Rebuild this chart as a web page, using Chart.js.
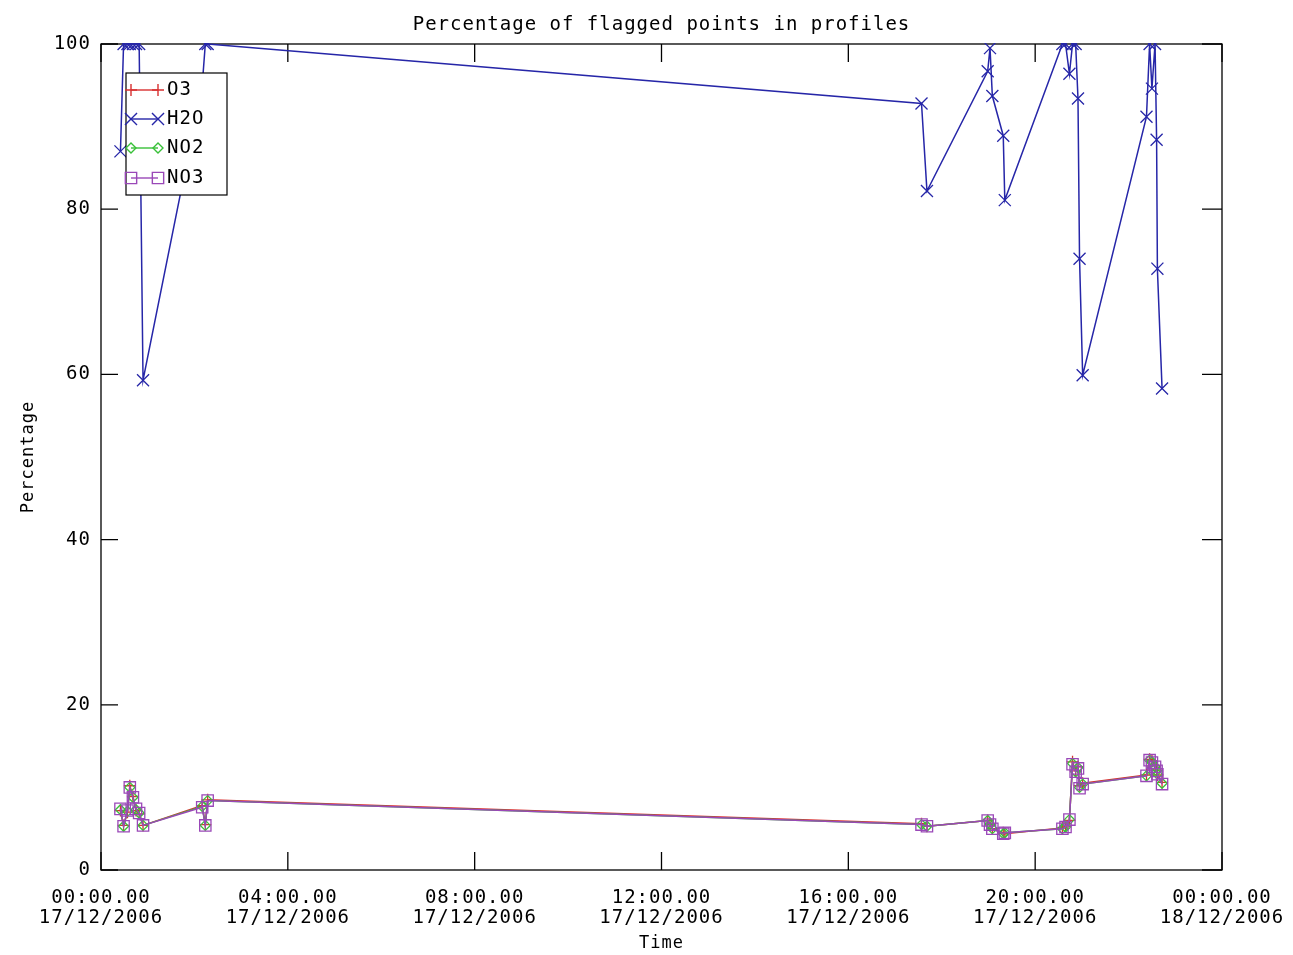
<!DOCTYPE html>
<html>
<head>
<meta charset="utf-8">
<title>Percentage of flagged points in profiles</title>
<script src="https://cdn.jsdelivr.net/npm/chart.js@4.4.0/dist/chart.umd.min.js"></script>
<style>
html,body{margin:0;padding:0;background:#fff;}
</style>
</head>
<body>
<canvas id="flagged" width="1293" height="955"></canvas>
<script>
// profile times on 17/12/2006 (hh:mm)
var times = ['00:25','00:29','00:34','00:37','00:41','00:45','00:49','00:54',
	'02:10','02:14','02:17','17:34','17:41',
	'18:59','19:02','19:05','19:19','19:21',
	'20:35','20:39','20:44','20:48','20:52','20:55','20:57','21:01',
	'22:23','22:27','22:30','22:34','22:36','22:37','22:43'];

var o3  = [7.2,5.4,7.0,10.2,8.9,7.2,6.8,5.4, 7.8,5.5,8.5, 5.6,5.3, 6.0,5.6,5.0,4.5,4.4,
	5.1,5.3,6.0,13.1,12.0,12.5,10.2,10.5, 11.5,13.4,13.2,12.6,12.1,11.5,10.6];
var h2o = [87,100,100,100,100,100,100,59.3, 95,100,100, 92.8,82.2, 96.7,99.5,93.7,88.9,81.1,
	100,100,96.4,100,100,93.4,74,59.9, 91.2,100,94.6,100,88.4,72.8,58.3];
var no2 = [7.3,5.3,7.1,10.0,8.8,7.3,6.9,5.4, 7.7,5.4,8.4, 5.5,5.3, 6.0,5.5,5.0,4.4,4.5,
	5.0,5.2,6.1,12.9,11.9,12.4,10.0,10.4, 11.4,13.3,13.1,12.5,12.0,11.6,10.5];
var no3 = [7.4,5.3,7.2,10.0,8.8,7.4,6.9,5.4, 7.6,5.4,8.4, 5.5,5.3, 6.0,5.5,5.0,4.4,4.5,
	5.0,5.2,6.1,12.8,11.9,12.3,9.9,10.4, 11.4,13.3,13.0,12.5,12.0,11.6,10.4];

var xTickHours = [0,4,8,12,16,20,24];
var xTickLabels = [['00:00.00','17/12/2006'],['04:00.00','17/12/2006'],['08:00.00','17/12/2006'],
	['12:00.00','17/12/2006'],['16:00.00','17/12/2006'],['20:00.00','17/12/2006'],['00:00.00','18/12/2006']];
var yTicks = [0,20,40,60,80,100];

var chartTitle = 'Percentage of flagged points in profiles';
var FONT = "'DejaVu Sans Mono', monospace";

function toHours(t){
	let p = t.split(':');
	return parseInt(p[0],10) + parseInt(p[1],10)/60;
}

function points(values){
	let pts = [];
	for(let i = 0; i < times.length; i++){
		pts.push({x: toHours(times[i]), y: values[i]});
	}
	return pts;
}

function drawMarker(ctx, style, x, y, r){
	ctx.beginPath();
	if(style == 'cross'){
		ctx.moveTo(x - r, y); ctx.lineTo(x + r, y);
		ctx.moveTo(x, y - r); ctx.lineTo(x, y + r);
	} else if(style == 'crossRot'){
		let d = r * Math.SQRT1_2;
		ctx.moveTo(x - d, y - d); ctx.lineTo(x + d, y + d);
		ctx.moveTo(x - d, y + d); ctx.lineTo(x + d, y - d);
	} else if(style == 'rectRot'){
		ctx.moveTo(x - r, y); ctx.lineTo(x, y - r); ctx.lineTo(x + r, y); ctx.lineTo(x, y + r); ctx.closePath();
	} else {
		let s = r * Math.SQRT1_2;
		ctx.rect(x - s, y - s, 2*s, 2*s);
	}
	ctx.stroke();
}

var idlPlugin = {
	id: 'idlStyle',
	beforeDraw: function(chart){
		chart.ctx.letterSpacing = '1px';
	},
	beforeDatasetsDraw: function(chart){
		let ctx = chart.ctx, a = chart.chartArea;
		let xs = chart.scales.x, ys = chart.scales.y;
		ctx.save();
		ctx.strokeStyle = '#000';
		ctx.lineWidth = 1.3;
		ctx.strokeRect(a.left, a.top, a.right - a.left, a.bottom - a.top);
		ctx.beginPath();
		xs.ticks.forEach(function(t){
			let px = xs.getPixelForValue(t.value);
			ctx.moveTo(px, a.bottom); ctx.lineTo(px, a.bottom - 18);
			ctx.moveTo(px, a.top); ctx.lineTo(px, a.top + 18);
		});
		ys.ticks.forEach(function(t){
			let py = ys.getPixelForValue(t.value);
			ctx.moveTo(a.left, py); ctx.lineTo(a.left + 17, py);
			ctx.moveTo(a.right, py); ctx.lineTo(a.right - 20, py);
		});
		ctx.stroke();
		// title, centred on the plot
		ctx.fillStyle = '#000';
		ctx.font = '19px ' + FONT;
		ctx.textAlign = 'center';
		ctx.textBaseline = 'middle';
		ctx.fillText(chartTitle, (a.left + a.right) / 2, 25);
		ctx.restore();
	},
	afterDraw: function(chart){
		let ctx = chart.ctx;
		ctx.save();
		ctx.fillStyle = '#fff';
		ctx.fillRect(126, 73, 101, 122);
		ctx.strokeStyle = '#000';
		ctx.lineWidth = 1.2;
		ctx.strokeRect(126, 73, 101, 122);
		let rows = [90, 119, 148, 178];
		let sets = chart.data.datasets;
		ctx.font = '19px ' + FONT;
		ctx.textBaseline = 'middle';
		ctx.textAlign = 'left';
		for(let i = 0; i < sets.length; i++){
			let ds = sets[i], y = rows[i];
			ctx.strokeStyle = ds.borderColor;
			ctx.lineWidth = 1.4;
			ctx.beginPath();
			ctx.moveTo(131, y); ctx.lineTo(158, y);
			ctx.stroke();
			drawMarker(ctx, ds.pointStyle, 131, y, ds.pointRadius);
			drawMarker(ctx, ds.pointStyle, 158, y, ds.pointRadius);
			ctx.fillStyle = '#000';
			ctx.fillText(ds.label, 167, y);
		}
		ctx.restore();
	}
};

function makeChart(){
	let ctx = document.getElementById('flagged').getContext('2d');

	let datasets = [
		{label:'O3',  data:points(o3),  borderColor:'#d83030', pointStyle:'cross',    pointRadius:6,   order:3},
		{label:'H2O', data:points(h2o), borderColor:'#2626a8', pointStyle:'crossRot', pointRadius:8.5, order:2},
		{label:'NO2', data:points(no2), borderColor:'#38c038', pointStyle:'rectRot',  pointRadius:5,   order:1},
		{label:'NO3', data:points(no3), borderColor:'#9a48b8', pointStyle:'rect',     pointRadius:8,   order:0}
	];
	datasets.forEach(function(d){
		d.showLine = true;
		d.borderWidth = 1.5;
		d.pointBorderColor = d.borderColor;
		d.pointBackgroundColor = 'rgba(0,0,0,0)';
		d.pointBorderWidth = 1.3;
		d.pointHoverRadius = d.pointRadius;
		d.clip = 1;
	});

	Chart.defaults.color = '#000';

	new Chart(ctx, {
		type: 'scatter',
		data: {datasets: datasets},
		plugins: [idlPlugin],
		options: {
			responsive: false,
			animation: false,
			devicePixelRatio: 1,
			layout: {padding: {left:0, right:71, top:44, bottom:0}},
			plugins: {
				legend: {display:false},
				tooltip: {enabled:false},
				title: {display:false}
			},
			scales: {
				x: {
					type: 'linear',
					min: 0, max: 24,
					afterBuildTicks: function(scale){
						scale.ticks = xTickHours.map(function(v){ return {value:v}; });
					},
					afterFit: function(scale){
						scale.height = 85;
						scale.paddingLeft = 0;
						scale.paddingRight = 0;
					},
					grid: {display:false, drawTicks:false},
					border: {display:false},
					ticks: {
						autoSkip: false,
						maxRotation: 0,
						padding: 18,
						font: {family: FONT, size: 19, lineHeight: 1.05},
						callback: function(v){
							let k = xTickHours.indexOf(v);
							return k >= 0 ? xTickLabels[k] : '';
						}
					},
					title: {display:true, text:'Time', font:{family:FONT, size:17}, padding:{top:0, bottom:1}}
				},
				y: {
					min: 0, max: 100,
					afterBuildTicks: function(scale){
						scale.ticks = yTicks.map(function(v){ return {value:v}; });
					},
					afterFit: function(scale){ scale.width = 101; },
					grid: {display:false, drawTicks:false},
					border: {display:false},
					ticks: {padding: 10, font: {family: FONT, size: 19}},
					title: {display:true, text:'Percentage', font:{family:FONT, size:17}, padding:{top:18, bottom:0}}
				}
			}
		}
	});
}

window.onload = function(){
	makeChart();
};
</script>
</body>
</html>
